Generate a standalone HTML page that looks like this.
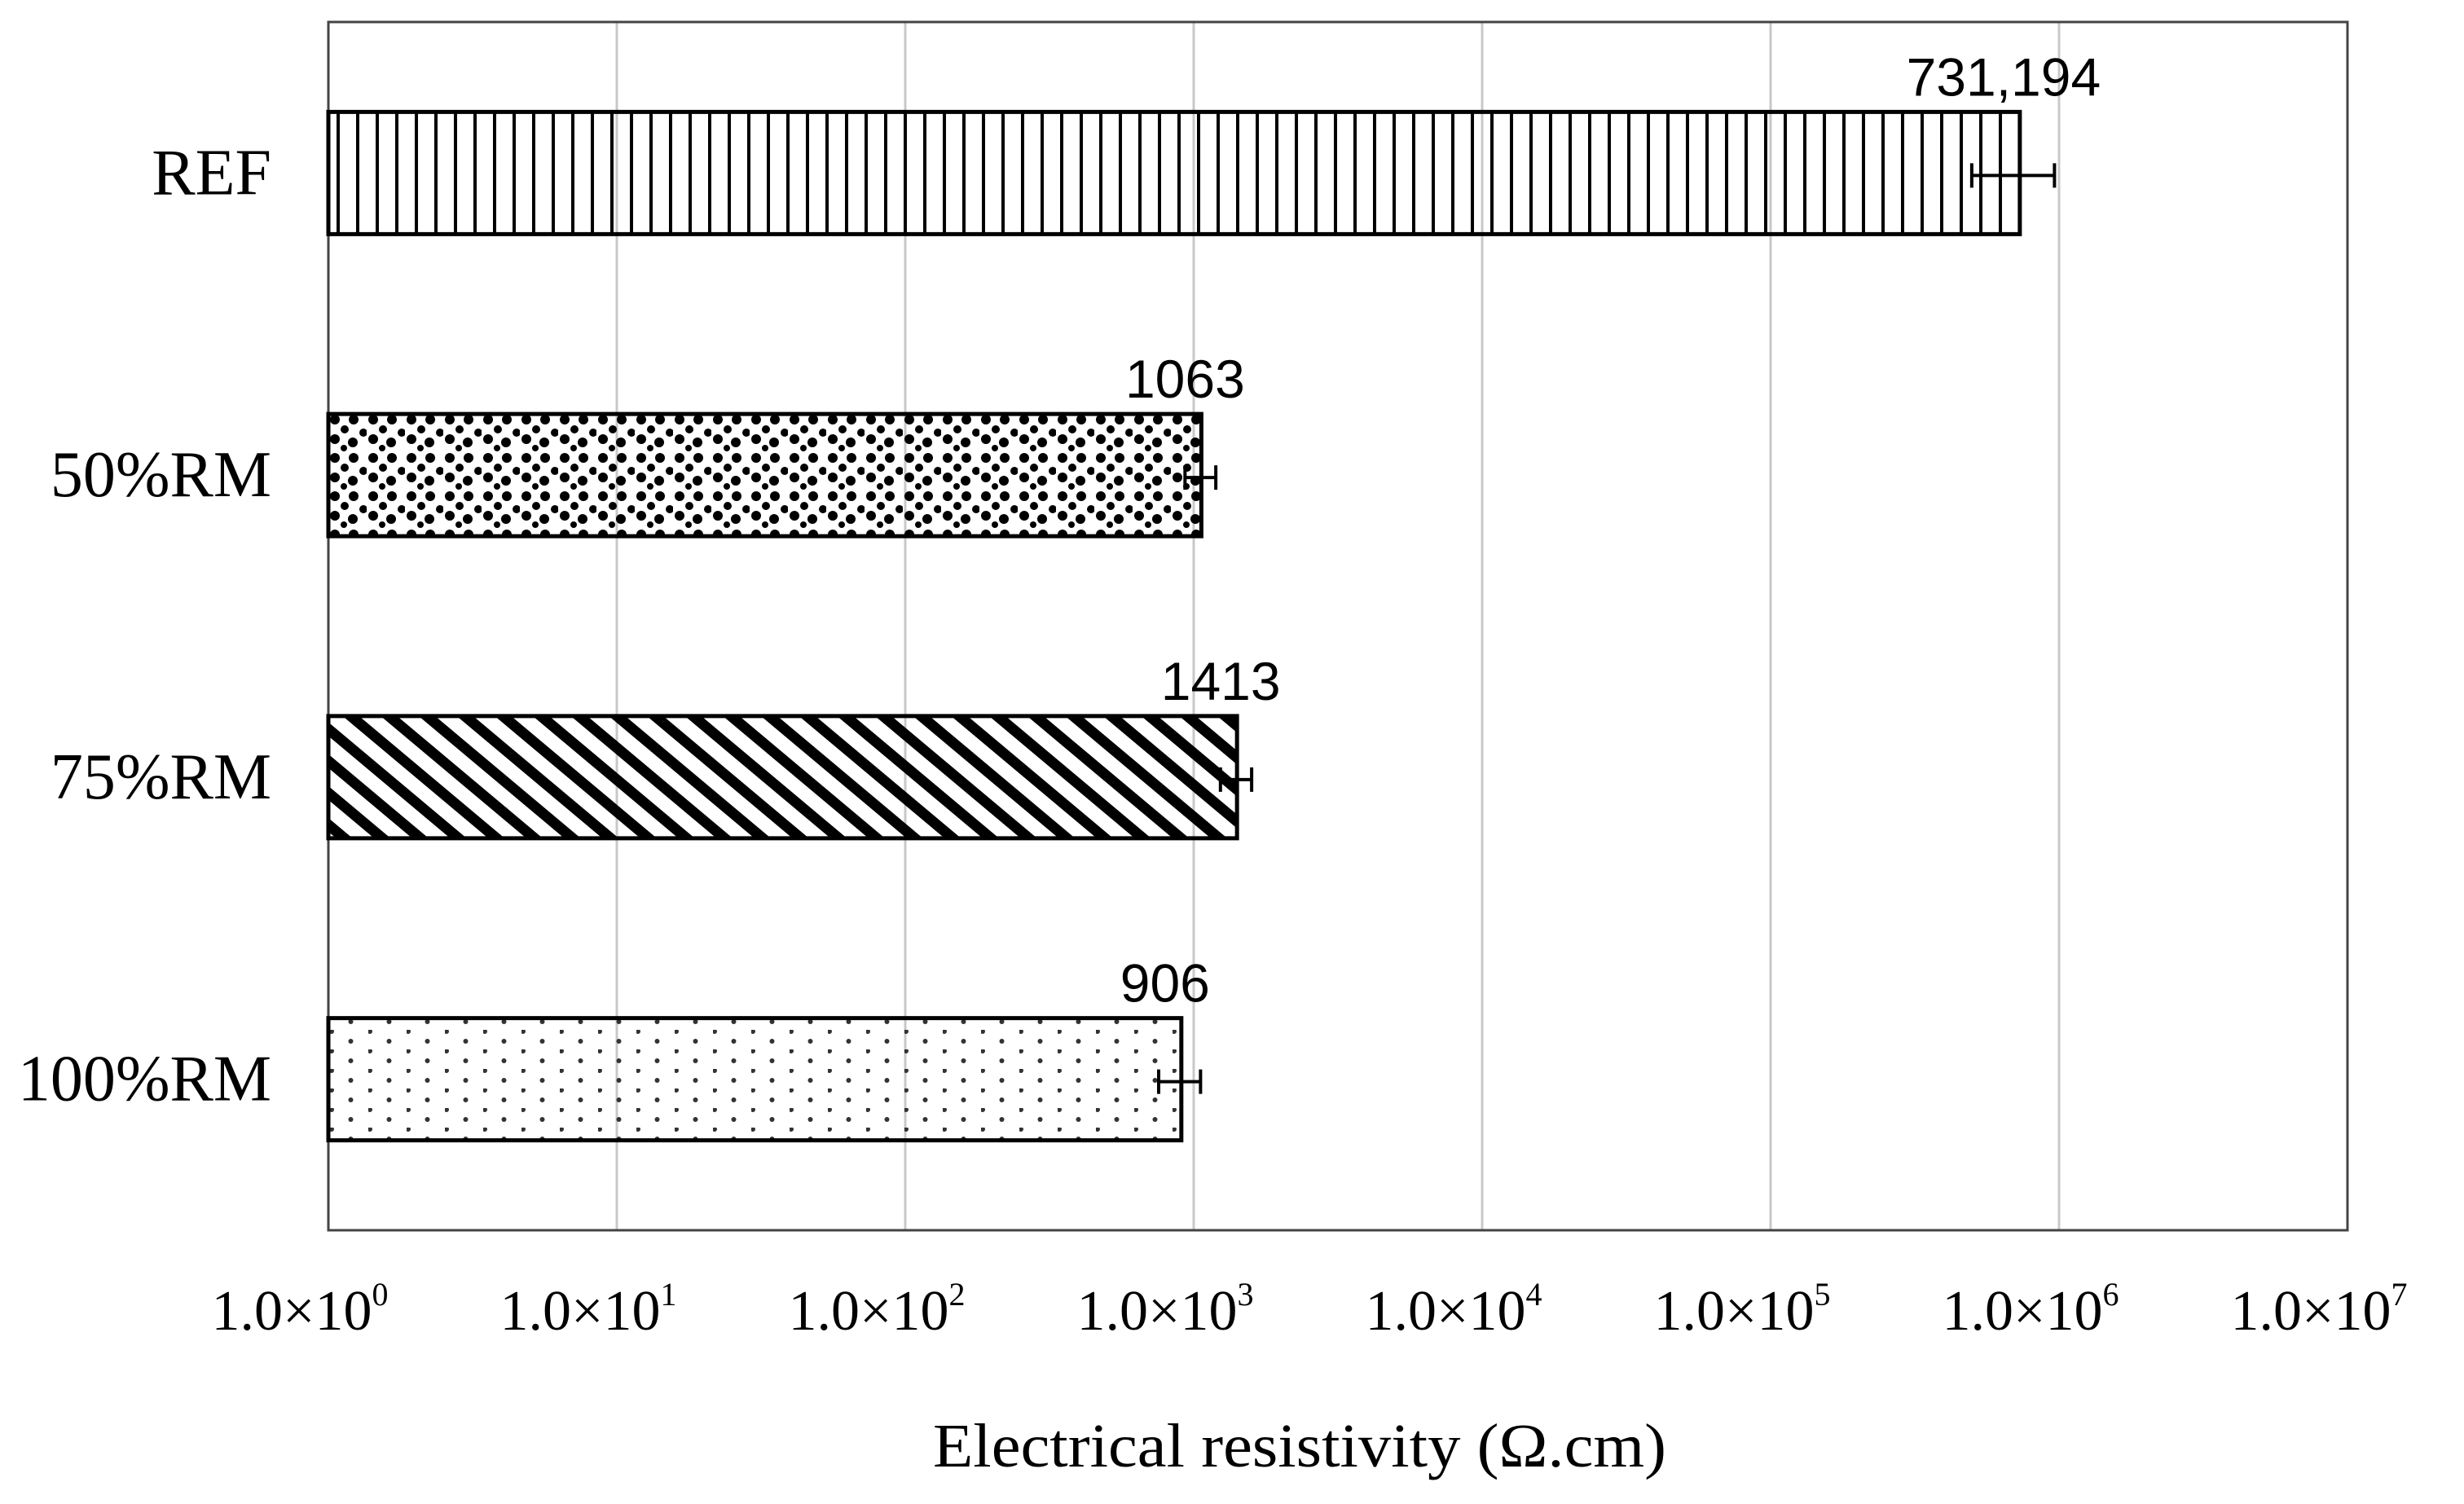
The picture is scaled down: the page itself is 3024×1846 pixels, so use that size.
<!DOCTYPE html>
<html><head><meta charset="utf-8"><style>
html,body{margin:0;padding:0;background:#fff;}
svg{display:block;}
</style></head><body>
<svg id="chart" width="3024" height="1846" viewBox="0 0 3024 1846" xmlns="http://www.w3.org/2000/svg">
<defs>
<pattern id="p-vert" patternUnits="userSpaceOnUse" width="24" height="24" x="403"><rect x="10" y="0" width="4" height="24" fill="#000"/></pattern>
<pattern id="p-dots" patternUnits="userSpaceOnUse" width="47" height="47" x="403" y="507">
<circle cx="8" cy="8" r="6" fill="#000"/><circle cx="31" cy="8" r="6" fill="#000"/>
<circle cx="20" cy="20" r="5" fill="#000"/><circle cx="43" cy="24" r="5" fill="#000"/>
<circle cx="8" cy="32" r="6" fill="#000"/><circle cx="30" cy="36" r="6" fill="#000"/>
<circle cx="19" cy="43" r="4" fill="#000"/></pattern>
<pattern id="p-diag" patternUnits="userSpaceOnUse" width="30" height="30" patternTransform="rotate(40)"><rect x="0" y="0" width="30" height="13" fill="#000"/></pattern>
<pattern id="p-fine" patternUnits="userSpaceOnUse" width="47" height="24" x="405" y="1264"><circle cx="2" cy="2" r="3" fill="#333"/><circle cx="25.5" cy="14" r="3" fill="#333"/></pattern>
</defs>
<g id="grid"></g>
<g id="bars"></g>
<g id="labels"></g>
</svg>
<script>
const categories = ["REF","50%RM","75%RM","100%RM"];
const values = [731194, 1063, 1413, 906];
const errors = [233000, 130, 175, 150];
const valueLabels = ["731,194","1063","1413","906"];
const tickExps = [0,1,2,3,4,5,6,7];
const patterns = ["url(#p-vert)","url(#p-dots)","url(#p-diag)","url(#p-fine)"];

const NS = "http://www.w3.org/2000/svg";
const L = 403, R = 2881, T = 27, B = 1510, DEC = (R - L) / 7;
const xScale = v => L + Math.log10(v) * DEC;
const band = (B - T) / categories.length;
const yCenter = i => T + band * (i + 0.5);
const barH = 150;
function mk(tag, attrs, parent) { const e = document.createElementNS(NS, tag); for (const k in attrs) e.setAttribute(k, attrs[k]); parent.appendChild(e); return e; }
const grid = document.getElementById('grid'), bars = document.getElementById('bars'), labels = document.getElementById('labels');

tickExps.forEach(p => {
  const x = xScale(Math.pow(10, p));
  if (p > 0 && p < 7) {
    const g = mk('line', {x1: x, x2: x, y1: T, y2: B, stroke: '#c8c8c8', 'stroke-width': 3}, grid);
    
    
  }
  const t = mk('text', {x: x - 35, y: 1632, 'text-anchor': 'middle', 'font-family': '"Liberation Serif", serif', 'font-size': 70, fill: '#000'}, labels);
  
  
  t.appendChild(document.createTextNode('1.0×10'));
  const s = mk('tspan', {'font-size': 40, dy: -30}, t);
  s.textContent = String(p);
});
const frame = mk('rect', {x: L, y: T, width: R - L, height: B - T, fill: 'none', stroke: '#444', 'stroke-width': 3}, grid);



categories.forEach((c, i) => {
  const yc = yCenter(i), xe = xScale(values[i]);
  const r = mk('rect', {x: L, y: yc - barH / 2, width: xe - L, height: barH, fill: patterns[i], stroke: '#000', 'stroke-width': 5}, bars);
  
  
  const x1 = xScale(values[i] - errors[i]), x2 = xScale(values[i] + errors[i]);
  const eg = mk('g', {stroke: '#000', 'stroke-width': 4}, bars);
  
  
  mk('line', {x1: x1, x2: x2, y1: yc + 3, y2: yc + 3}, eg);
  mk('line', {x1: x1, x2: x1, y1: yc - 12, y2: yc + 18}, eg);
  mk('line', {x1: x2, x2: x2, y1: yc - 12, y2: yc + 18}, eg);
  const vl = mk('text', {x: xe - 20, y: yc - barH / 2 - 20, 'text-anchor': 'middle', 'font-family': '"Liberation Sans", sans-serif', 'font-size': 66, fill: '#000'}, labels);
  
  
  vl.textContent = valueLabels[i];
  const cl = mk('text', {x: 333, y: yc + 26, 'text-anchor': 'end', 'font-family': '"Liberation Serif", serif', 'font-size': 80, fill: '#000'}, labels);
  
  
  cl.textContent = c;
});
const at = mk('text', {x: 1595, y: 1800, 'text-anchor': 'middle', 'font-family': '"Liberation Serif", serif', 'font-size': 76, fill: '#000', textLength: 900, lengthAdjust: 'spacingAndGlyphs'}, labels);


at.textContent = 'Electrical resistivity (Ω.cm)';
</script>
</body></html>
